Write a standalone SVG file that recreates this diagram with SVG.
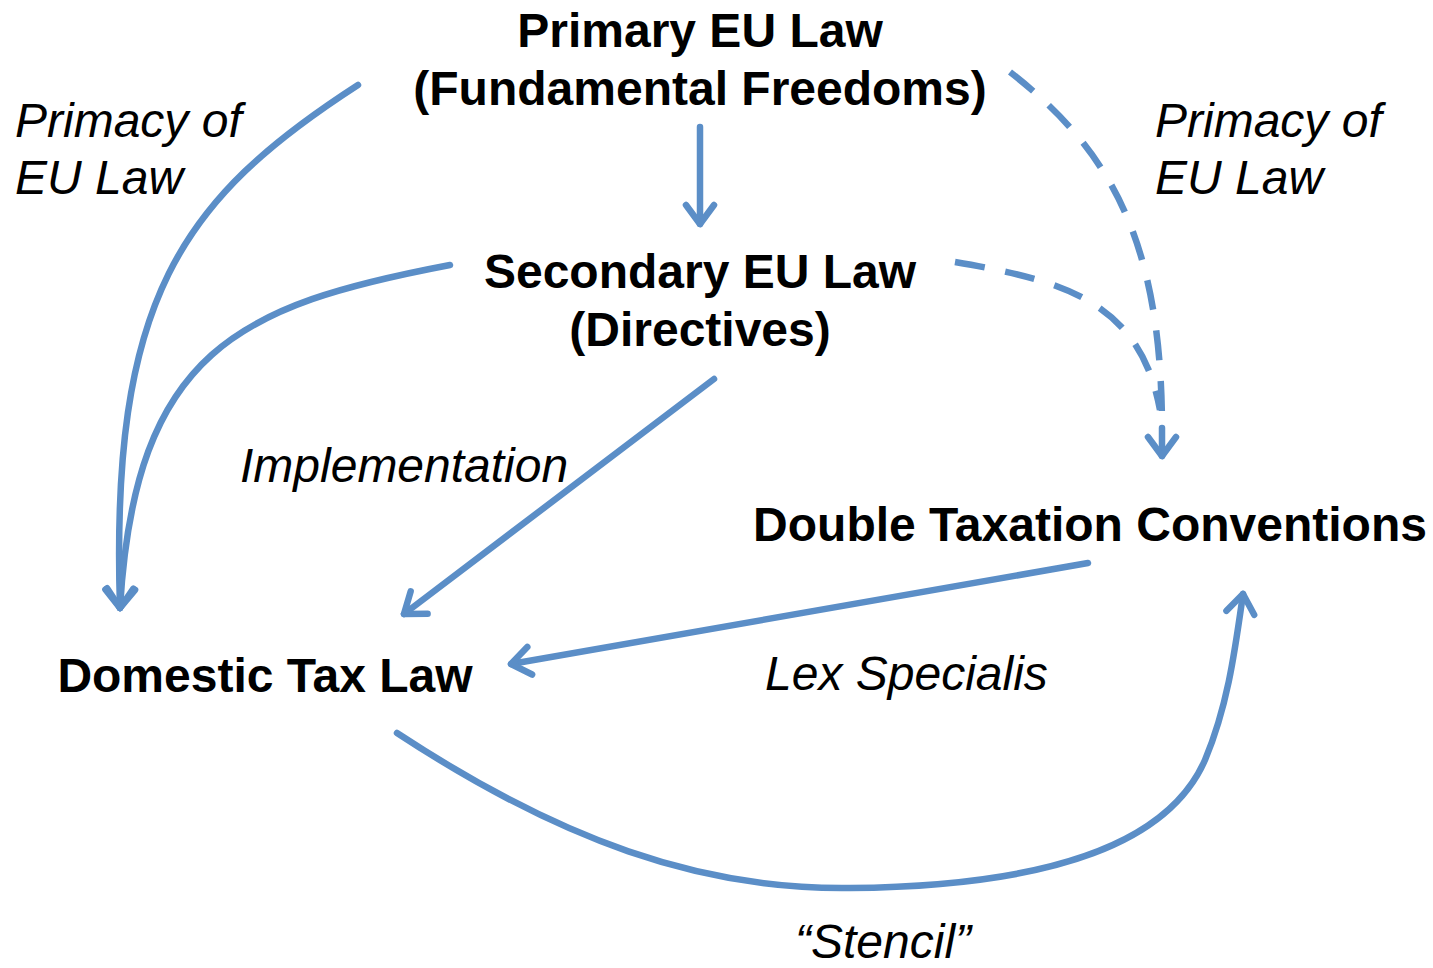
<svg xmlns="http://www.w3.org/2000/svg" width="1433" height="968" viewBox="0 0 1433 968">
<style>
.b{font-family:"Liberation Sans",Arial,sans-serif;font-weight:bold;font-size:48px;fill:#000;text-anchor:middle}
.i{font-family:"Liberation Sans",Arial,sans-serif;font-style:italic;font-size:48px;fill:#000}
.c{fill:none;stroke:#5b8ec7;stroke-width:6.5;stroke-linecap:round;marker-end:url(#ah)}
.d{fill:none;stroke:#5b8ec7;stroke-width:6.5;stroke-dasharray:30 21}
</style>
<defs>
<marker id="ah" markerUnits="userSpaceOnUse" orient="auto" markerWidth="40" markerHeight="40" refX="0" refY="0" viewBox="-25 -20 30 40" overflow="visible">
<path d="M-19,-14 L0,0 L-19,14" fill="none" stroke="#5b8ec7" stroke-width="6.5" stroke-linecap="round" stroke-linejoin="round"/>
</marker>
</defs>
<rect width="1433" height="968" fill="#fff"/>
<g id="connectors">
<path class="c" d="M358,85 C180,200 110,300 120,608"/>
<path class="c" d="M450,265 C240,305 135,350 120,608"/>
<path class="c" d="M700,127 L700,224"/>
<path class="c" d="M714,379 L404,614"/>
<path class="c" d="M1088,563 L511,664"/>
<path class="c" d="M397,733 C560,840 700,890 850,888 C1060,886 1170,840 1205,760 C1228,705 1235,650 1243,594"/>
<path class="d" d="M1010,72 C1110,150 1162,240 1162,430"/>
<path class="d" d="M955,262 C1060,280 1140,300 1160,410"/>
<path class="c" d="M1162,428 L1162,456"/>
</g>
<g id="primary"><text class="b" x="700" y="47">Primary EU Law</text><text class="b" x="700" y="105">(Fundamental Freedoms)</text></g>
<g id="secondary"><text class="b" x="700" y="288">Secondary EU Law</text><text class="b" x="700" y="346">(Directives)</text></g>
<g id="dtc"><text class="b" x="1090" y="541">Double Taxation Conventions</text></g>
<g id="domestic"><text class="b" x="265" y="692">Domestic Tax Law</text></g>
<g id="labels">
<text class="i" x="15" y="137">Primacy of</text><text class="i" x="15" y="194">EU Law</text>
<text class="i" x="1155" y="137">Primacy of</text><text class="i" x="1155" y="194">EU Law</text>
<text class="i" x="240" y="482">Implementation</text>
<text class="i" x="765" y="690">Lex Specialis</text>
<text class="i" x="795" y="958">“Stencil”</text>
</g>
</svg>
